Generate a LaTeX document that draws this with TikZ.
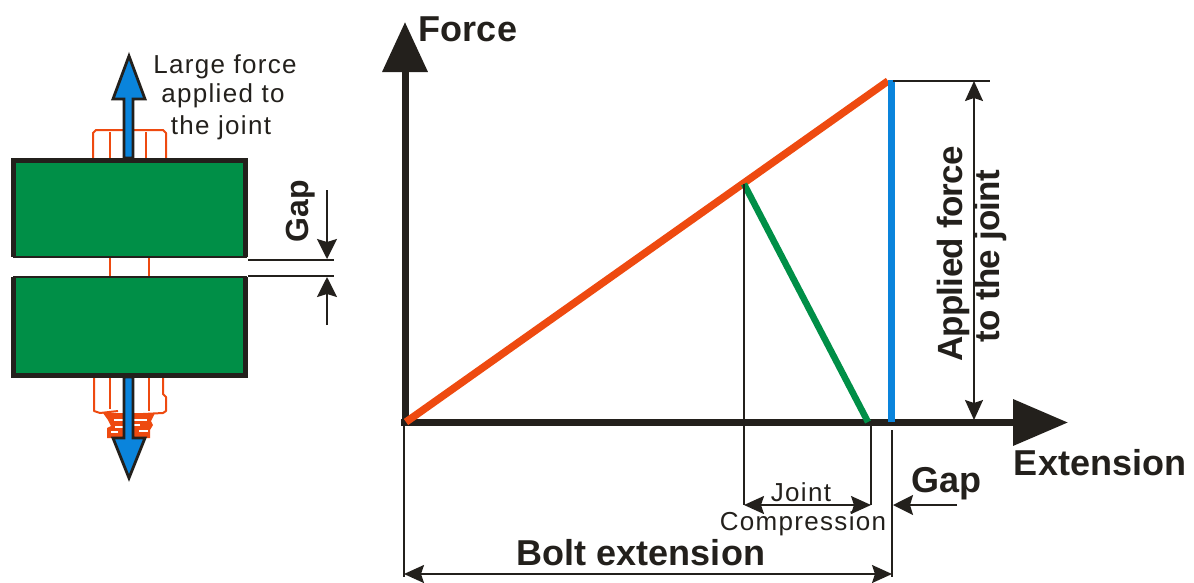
\documentclass[tikz,border=0pt]{standalone}
\usepackage{fontspec}
\setmainfont{Liberation Sans}
\usetikzlibrary{arrows.meta}
\definecolor{inkc}{HTML}{23201C}
\definecolor{plategreen}{HTML}{008F47}
\definecolor{boltorange}{HTML}{EE4A10}
\definecolor{forceblue}{HTML}{0A84DC}
\tikzset{
  x=1pt,y=-1pt,
  plate/.style={draw=inkc,line width=2pt,fill=plategreen},
  plateedge/.style={draw=inkc,line width=5pt,line join=miter},
  boltline/.style={draw=boltorange,line width=2pt,line join=round},
  yaxisline/.style={draw=inkc,line width=7pt,-{Triangle[length=50pt,width=44pt]}},
  xaxisline/.style={draw=inkc,line width=7pt,-{Triangle[length=55pt,width=45pt]}},
  dim/.style={draw=inkc,line width=1.8pt},
  dimarrow/.style={dim,{Stealth[length=20pt,width=18pt,inset=3pt]}-{Stealth[length=20pt,width=18pt,inset=3pt]}},
  dimend/.style={dim,-{Stealth[length=20pt,width=20pt,inset=3pt]}},
  forcearrow/.style={draw=inkc,fill=forceblue,line width=2.8pt,line join=miter},
  biglabel/.style={font=\fontsize{36}{36}\selectfont\bfseries,text=inkc,inner sep=0pt},
  midlabel/.style={font=\fontsize{35}{35}\selectfont\bfseries,text=inkc,inner sep=0pt},
  smalllabel/.style={font=\fontsize{26}{26}\selectfont\addfontfeature{LetterSpace=5},text=inkc,inner sep=0pt},
}
\begin{document}
\begin{tikzpicture}
\useasboundingbox (0,0) rectangle (1194,582);
% bolt (orange outline)
\draw[boltline] (93,158) -- (93,133) -- (96,130) -- (163,130) -- (166,133) -- (166,158);
\draw[boltline] (110,158) -- (110,132);
\draw[boltline] (146,158) -- (146,132);
\draw[boltline] (110,258) -- (110,276);
\draw[boltline] (149,258) -- (149,276);
\draw[boltline] (94,377) -- (94,411) -- (100,413) -- (118,411);
\draw[boltline] (110,377) -- (110,409);
\draw[boltline] (149,377) -- (149,411);
\draw[boltline] (163,377) -- (163,394) -- (166,397) -- (166,411) -- (163,413) -- (143,414);
\fill[boltorange] (103,413) -- (124,413) -- (124,438) -- (107,438) -- (107,428) -- (111,426) -- (108,420) -- cycle;
\fill[boltorange] (134,413) -- (155,413) -- (151,421) -- (153,425) -- (150,430) -- (150,438) -- (134,438) -- cycle;
\draw[white,line width=1.7pt] (114,420) -- (124,420) (115,427) -- (124,427) (111,432) -- (118,432)
  (134,420) -- (147,420) (139,431) -- (148,431) (134,425) -- (140,425);
% joint plates
\node[plate,minimum width=232pt,minimum height=97pt,inner sep=0pt,outer sep=0pt] (topplate) at (129.5,208.5) {};
\node[plate,minimum width=232pt,minimum height=98.5pt,inner sep=0pt,outer sep=0pt] (botplate) at (129.5,326.2) {};
\draw[plateedge] (topplate.south west) -- (topplate.north west) -- (topplate.north east) -- (topplate.south east);
\draw[plateedge] (botplate.north west) -- (botplate.south west) -- (botplate.south east) -- (botplate.north east);
% force arrows
\draw[forcearrow] (124,158) -- (124,99) -- (113,99) -- (129,56) -- (145,99) -- (133,99) -- (133,158) -- cycle;
\draw[forcearrow] (124,377) -- (124,438) -- (113,438) -- (129,478) -- (145,438) -- (133,438) -- (133,377) -- cycle;
% gap at joint
\coordinate (gapa) at (248,260);
\coordinate (gapae) at (334,260);
\coordinate (gapb) at (248,276);
\coordinate (gapbe) at (334,276);
\coordinate (gapt) at (327,190);
\coordinate (gapu) at (327,325);
\draw[dim,line width=2.2pt] (gapa) -- (gapae);
\draw[dim] (gapb) -- (gapbe);
\draw[dimend] (gapt) -- (327,259);
\draw[dimend] (gapu) -- (327,277);
\node[midlabel,font=\fontsize{32}{32}\selectfont\bfseries,rotate=90] (gapleft) at (301,211) {Gap};
\node[smalllabel] (large1) at (225,67) {Large force};
\node[smalllabel] (large2) at (223,96) {applied to};
\node[smalllabel] (large3) at (221,128) {the joint};
% chart
\coordinate (origin) at (405,422.5);
\coordinate (yend) at (405,22);
\coordinate (xstart) at (401,422.5);
\coordinate (xend) at (1068,422.5);
\coordinate (peak) at (888,81);
\coordinate (knee) at (744,184);
\coordinate (greenfoot) at (868,422);
\coordinate (bluefoot) at (891,422);
\coordinate (bluetop) at (891,80);
\draw[yaxisline] (origin) -- (yend);
\draw[xaxisline] (xstart) -- (xend);
\draw[draw=boltorange,line width=7.5pt] (406,422) -- (peak);
\draw[draw=plategreen,line width=6.5pt] (knee) -- (greenfoot);
\draw[draw=forceblue,line width=7pt] (bluefoot) -- (bluetop);
% dimensions
\coordinate (kneedrop) at (744,505);
\coordinate (footdrop) at (871,505);
\coordinate (footup) at (871,425);
\coordinate (gapv1) at (892,430);
\coordinate (gapv2) at (892,577);
\coordinate (boltl) at (404,574);
\coordinate (boltr) at (892,574);
\coordinate (gaparrow) at (957,505);
\coordinate (gapin) at (893,505);
\coordinate (leftstart) at (404,425);
\coordinate (leftend) at (404,577);
\coordinate (appt) at (974,81);
\coordinate (appb) at (974,420);
\coordinate (ticka) at (893,81);
\coordinate (tickb) at (990,81);
\draw[dim] (knee) -- (kneedrop);
\draw[dim] (footup) -- (footdrop);
\draw[dimarrow] (kneedrop) -- (footdrop);
\draw[dim] (gapv1) -- (gapv2);
\draw[dimend] (gaparrow) -- (gapin);
\draw[dim] (leftstart) -- (leftend);
\draw[dimarrow] (boltl) -- (boltr);
\draw[dim] (ticka) -- (tickb);
\draw[dimarrow] (appt) -- (appb);
% chart labels
\node[biglabel] (force) at (468,29) {Force};
\node[biglabel] (ext) at (1100,463) {Extension};
\node[biglabel] (boltext) at (641,553) {Bolt extension};
\node[biglabel] (gapright) at (946,484) {Gap};
\node[midlabel,rotate=90] (applied) at (953,254) {\addfontfeature{LetterSpace=-2}Applied force};
\node[midlabel,rotate=90] (tojoint) at (990,256) {\addfontfeature{LetterSpace=-2}to the joint};
\node[smalllabel] (joint) at (801,492) {Joint};
\node[smalllabel] (compress) at (803,524) {Compression};
\end{tikzpicture}
\end{document}
